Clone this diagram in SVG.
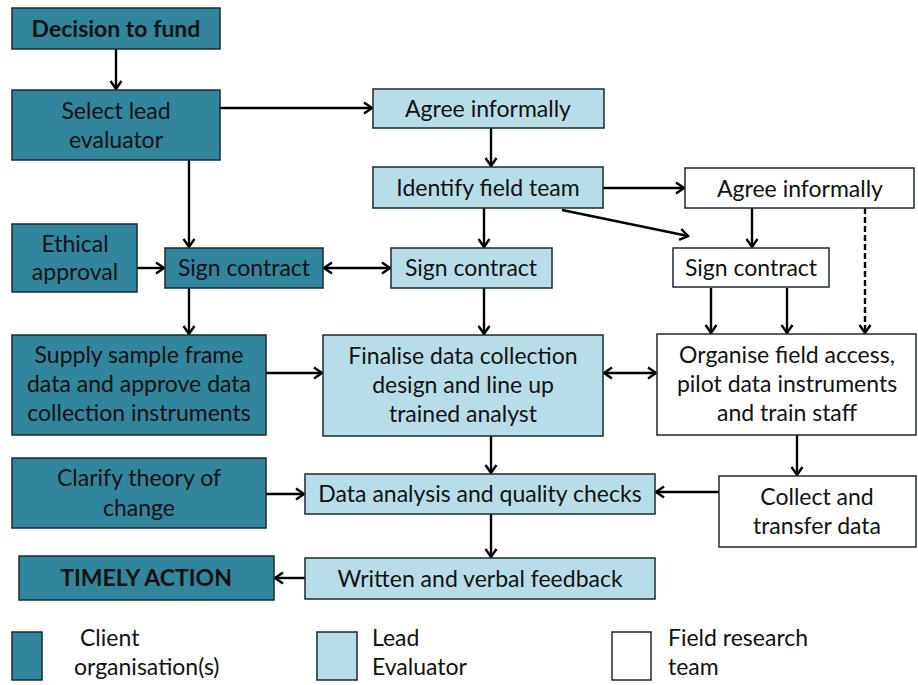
<svg xmlns="http://www.w3.org/2000/svg" width="918" height="685" viewBox="0 0 918 685">
  <style>
    text { font-family: Lato, "Liberation Sans", sans-serif; font-size: 23px; fill: #111; text-anchor: middle; }
    .client { fill: #31859c; stroke: #1c2a30; stroke-width: 1.5; }
    .lead { fill: #b7dee8; stroke: #1c2a30; stroke-width: 1.5; }
    .field { fill: #ffffff; stroke: #1c2a30; stroke-width: 1.5; }
    .b { font-weight: bold; }
    .leg { text-anchor: start; }
    .conn line { stroke: #000; stroke-width: 2.4; fill: none; marker-end: url(#arr); }
    .conn .both { marker-start: url(#arrs); }
    .conn .dash { stroke-dasharray: 6 3; }
  </style>
  <defs>
    <marker id="arr" markerWidth="14" markerHeight="14" refX="10" refY="7" orient="auto" markerUnits="userSpaceOnUse">
      <path d="M2,1.5 L10,7 L2,12.5" fill="none" stroke="#000" stroke-width="2.4"/>
    </marker>
    <marker id="arrs" markerWidth="14" markerHeight="14" refX="4" refY="7" orient="auto" markerUnits="userSpaceOnUse">
      <path d="M12,1.5 L4,7 L12,12.5" fill="none" stroke="#000" stroke-width="2.4"/>
    </marker>
  </defs>

  <!-- connectors -->
  <g id="connectors" class="conn">
    <line x1="116" y1="49" x2="116" y2="89"/>
    <line x1="220" y1="108" x2="372" y2="108"/>
    <line x1="189" y1="160" x2="189" y2="247"/>
    <line x1="491" y1="128" x2="491" y2="166"/>
    <line x1="603" y1="188" x2="684" y2="188"/>
    <line x1="562" y1="210" x2="688" y2="236"/>
    <line x1="484" y1="208" x2="484" y2="247"/>
    <line x1="752" y1="208" x2="752" y2="247"/>
    <line class="dash" x1="865" y1="208" x2="865" y2="333"/>
    <line x1="137" y1="268" x2="164" y2="268"/>
    <line class="both" x1="324" y1="268" x2="390" y2="268"/>
    <line x1="189" y1="288" x2="189" y2="334"/>
    <line x1="484" y1="288" x2="484" y2="334"/>
    <line x1="711" y1="288" x2="711" y2="333"/>
    <line x1="787" y1="288" x2="787" y2="333"/>
    <line x1="266" y1="373" x2="322" y2="373"/>
    <line class="both" x1="604" y1="373" x2="656" y2="373"/>
    <line x1="491" y1="436" x2="491" y2="473"/>
    <line x1="797" y1="435" x2="797" y2="475"/>
    <line x1="266" y1="494" x2="304" y2="494"/>
    <line x1="719" y1="492" x2="656" y2="492"/>
    <line x1="491" y1="514" x2="491" y2="557"/>
    <line x1="305" y1="578" x2="275" y2="578"/>
  </g>

  <!-- client organisation nodes -->
  <g id="decision-to-fund">
    <rect class="client" x="12" y="8" width="208" height="41"/>
    <text class="b" x="116" y="37">Decision to fund</text>
  </g>
  <g id="select-lead-evaluator">
    <rect class="client" x="12" y="90" width="208" height="70"/>
    <text x="116" y="119">Select lead</text>
    <text x="116" y="148">evaluator</text>
  </g>
  <g id="ethical-approval">
    <rect class="client" x="12" y="224" width="125" height="68"/>
    <text x="75" y="252">Ethical</text>
    <text x="75" y="280">approval</text>
  </g>
  <g id="sign-contract-client">
    <rect class="client" x="165" y="248" width="158" height="40"/>
    <text x="244" y="276">Sign contract</text>
  </g>
  <g id="supply-sample-frame">
    <rect class="client" x="12" y="335" width="254" height="100"/>
    <text x="139" y="363">Supply sample frame</text>
    <text x="139" y="392">data and approve data</text>
    <text x="139" y="421">collection instruments</text>
  </g>
  <g id="clarify-theory">
    <rect class="client" x="12" y="458" width="254" height="70"/>
    <text x="139" y="486">Clarify theory of</text>
    <text x="139" y="516">change</text>
  </g>
  <g id="timely-action">
    <rect class="client" x="19" y="556" width="255" height="44"/>
    <text class="b" x="146" y="586">TIMELY ACTION</text>
  </g>

  <!-- lead evaluator nodes -->
  <g id="agree-informally-lead">
    <rect class="lead" x="373" y="89" width="231" height="39"/>
    <text x="488" y="117">Agree informally</text>
  </g>
  <g id="identify-field-team">
    <rect class="lead" x="373" y="167" width="230" height="41"/>
    <text x="488" y="196">Identify field team</text>
  </g>
  <g id="sign-contract-lead">
    <rect class="lead" x="391" y="248" width="161" height="40"/>
    <text x="471" y="276">Sign contract</text>
  </g>
  <g id="finalise-design">
    <rect class="lead" x="323" y="335" width="280" height="101"/>
    <text x="463" y="364">Finalise data collection</text>
    <text x="463" y="393">design and line up</text>
    <text x="463" y="422">trained analyst</text>
  </g>
  <g id="data-analysis">
    <rect class="lead" x="305" y="474" width="350" height="40"/>
    <text x="480" y="502">Data analysis and quality checks</text>
  </g>
  <g id="written-feedback">
    <rect class="lead" x="305" y="558" width="350" height="41"/>
    <text x="480" y="587">Written and verbal feedback</text>
  </g>

  <!-- field research team nodes -->
  <g id="agree-informally-field">
    <rect class="field" x="685" y="168" width="229" height="40"/>
    <text x="800" y="197">Agree informally</text>
  </g>
  <g id="sign-contract-field">
    <rect class="field" x="673" y="248" width="156" height="39"/>
    <text x="751" y="276">Sign contract</text>
  </g>
  <g id="organise-field-access">
    <rect class="field" x="657" y="334" width="259" height="101"/>
    <text x="787" y="363">Organise field access,</text>
    <text x="787" y="392">pilot data instruments</text>
    <text x="787" y="421">and train staff</text>
  </g>
  <g id="collect-transfer">
    <rect class="field" x="719" y="476" width="197" height="71"/>
    <text x="817" y="505">Collect and</text>
    <text x="817" y="534">transfer data</text>
  </g>

  <!-- legend -->
  <g id="legend">
    <rect class="client" x="12" y="632" width="30" height="48"/>
    <text class="leg" x="80" y="646">Client</text>
    <text class="leg" x="74" y="675">organisation(s)</text>
    <rect class="lead" x="317" y="632" width="40" height="48"/>
    <text class="leg" x="372" y="646">Lead</text>
    <text class="leg" x="372" y="675">Evaluator</text>
    <rect class="field" x="612" y="632" width="39" height="48"/>
    <text class="leg" x="668" y="646">Field research</text>
    <text class="leg" x="668" y="675">team</text>
  </g>
</svg>
